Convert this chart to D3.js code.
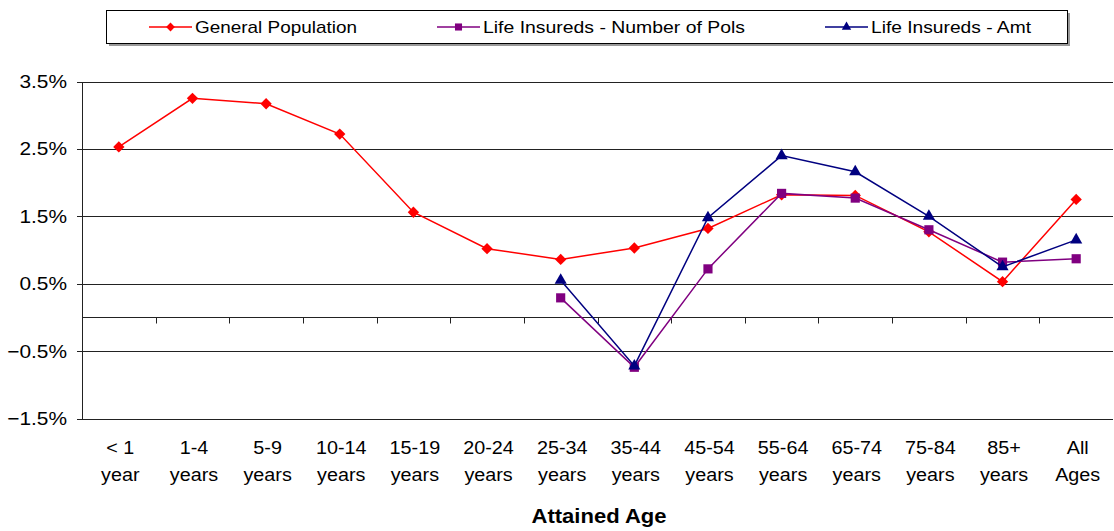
<!DOCTYPE html>
<html>
<head>
<meta charset="utf-8">
<script src="https://cdn.jsdelivr.net/npm/d3@7"></script>
<style>
  body { margin: 0; background: #fff; }
  text { font-family: "Liberation Sans", Arial, sans-serif; fill: #000; }
</style>
</head>
<body>
<div id="chart"></div>
<script>
var width = 1114,
    height = 531,
    stretch = 1.13; // the source text is a bit wider than Arial

// data (percent)
var ageLabels = [["< 1", "year"], ["1-4", "years"], ["5-9", "years"], ["10-14", "years"],
    ["15-19", "years"], ["20-24", "years"], ["25-34", "years"], ["35-44", "years"],
    ["45-54", "years"], ["55-64", "years"], ["65-74", "years"], ["75-84", "years"],
    ["85+", "years"], ["All", "Ages"]];
var genPop = [2.53, 3.25, 3.17, 2.72, 1.56, 1.02, 0.86, 1.03, 1.32, 1.82, 1.81, 1.27, 0.53, 1.75];
var numPols = [null, null, null, null, null, null, 0.29, -0.74, 0.72, 1.84, 1.77, 1.30, 0.82, 0.87];
var amt = [null, null, null, null, null, null, 0.55, -0.72, 1.48, 2.40, 2.16, 1.50, 0.75, 1.15];
var yTicks = [3.5, 2.5, 1.5, 0.5, -0.5, -1.5];
var seriesNames = ["General Population", "Life Insureds - Number of Pols", "Life Insureds - Amt"];

var diamond = {
    draw: function (ctx, size) {
        var r = Math.sqrt(size / 2);
        ctx.moveTo(0, -r); ctx.lineTo(r, 0); ctx.lineTo(0, r); ctx.lineTo(-r, 0); ctx.closePath();
    }
};

var series = [
    { name: seriesNames[0], values: genPop, color: "#ff0000", symbol: diamond, size: 64, legendW: 162 },
    { name: seriesNames[1], values: numPols, color: "#800080", symbol: d3.symbolSquare, size: 84, legendW: 262 },
    { name: seriesNames[2], values: amt, color: "#000080", symbol: d3.symbolTriangle, size: 64, legendW: 160 }
];

var plotLeft = 82, plotRight = 1113, plotTop = 81.5, plotBottom = 418.5;

var svg = d3.select("#chart").append("svg")
    .attr("width", width)
    .attr("height", height);

var x = d3.scaleBand()
    .domain(d3.range(ageLabels.length))
    .range([plotLeft, plotRight]);

var y = d3.scaleLinear()
    .domain([-1.5, 3.5])
    .range([plotBottom, plotTop]);

function place(px, py) {
    return "translate(" + px + "," + py + ") scale(" + stretch + ",1)";
}

// gridlines
svg.append("g")
    .selectAll("line")
    .data(yTicks)
    .enter().append("line")
    .attr("x1", plotLeft - 5)
    .attr("x2", plotRight)
    .attr("y1", function (d) { return Math.round(y(d)) + 0.5; })
    .attr("y2", function (d) { return Math.round(y(d)) + 0.5; })
    .attr("stroke", "#222")
    .attr("stroke-width", 1);

// y axis labels
svg.append("g")
    .selectAll("text")
    .data(yTicks)
    .enter().append("text")
    .attr("transform", function (d) { return place(67, y(d) + 6.5); })
    .attr("text-anchor", "end")
    .style("font-size", "18.5px")
    .text(function (d) { return d3.format(".1f")(d) + "%"; });

// left axis line
svg.append("line")
    .attr("x1", plotLeft + 0.5).attr("x2", plotLeft + 0.5)
    .attr("y1", Math.round(y(3.5))).attr("y2", Math.round(y(-1.5)) + 1)
    .attr("stroke", "#222");

// zero line with category ticks
var zeroY = Math.round(y(0)) + 0.5;
svg.append("line")
    .attr("x1", plotLeft).attr("x2", plotRight)
    .attr("y1", zeroY).attr("y2", zeroY)
    .attr("stroke", "#222");

svg.append("g")
    .selectAll("line")
    .data(d3.range(1, ageLabels.length))
    .enter().append("line")
    .attr("x1", function (d) { return Math.round(x(d)) + 0.5; })
    .attr("x2", function (d) { return Math.round(x(d)) + 0.5; })
    .attr("y1", zeroY)
    .attr("y2", zeroY + 6)
    .attr("stroke", "#222");

// x labels
var xl = svg.append("g")
    .selectAll("g")
    .data(ageLabels)
    .enter().append("g")
    .attr("transform", function (d, i) { return place(x(i) + x.bandwidth() / 2 + 1.5, 0); });
xl.append("text")
    .attr("y", 454)
    .attr("text-anchor", "middle")
    .style("font-size", "17.5px")
    .text(function (d) { return d[0]; });
xl.append("text")
    .attr("y", 481)
    .attr("text-anchor", "middle")
    .style("font-size", "17.5px")
    .text(function (d) { return d[1]; });

svg.append("text")
    .attr("transform", place(599, 523))
    .attr("text-anchor", "middle")
    .style("font-size", "19.5px")
    .style("font-weight", "bold")
    .text("Attained Age");

// lines and markers
var line = d3.line()
    .defined(function (d) { return d != null; })
    .x(function (d, i) { return x(i) + x.bandwidth() / 2; })
    .y(function (d) { return y(d); });

series.forEach(function (s) {
    svg.append("path")
        .datum(s.values)
        .attr("fill", "none")
        .attr("stroke", s.color)
        .attr("stroke-width", 1.5)
        .attr("d", line);

    svg.append("g")
        .selectAll("path")
        .data(s.values.map(function (v, i) { return { v: v, i: i }; })
            .filter(function (d) { return d.v != null; }))
        .enter().append("path")
        .attr("transform", function (d) {
            return "translate(" + (x(d.i) + x.bandwidth() / 2) + "," + y(d.v) + ")";
        })
        .attr("d", d3.symbol().type(s.symbol).size(s.size))
        .attr("fill", s.color);
});

// legend
var legend = svg.append("g");
legend.append("rect")
    .attr("x", 109).attr("y", 13)
    .attr("width", 961).attr("height", 33)
    .attr("fill", "#999");
legend.append("rect")
    .attr("x", 106.5).attr("y", 10.5)
    .attr("width", 961).attr("height", 33)
    .attr("fill", "#fff")
    .attr("stroke", "#000");

var legendX = [149, 437, 825];
series.forEach(function (s, i) {
    var lg = legend.append("g")
        .attr("transform", "translate(" + legendX[i] + ",27)");
    lg.append("line")
        .attr("x1", 0).attr("x2", 43)
        .attr("stroke", s.color)
        .attr("stroke-width", 1.5);
    lg.append("path")
        .attr("transform", "translate(21.5,0)")
        .attr("d", d3.symbol().type(s.symbol).size(s.size * 0.6))
        .attr("fill", s.color);
    lg.append("text")
        .attr("x", 46)
        .attr("dy", "0.35em")
        .attr("textLength", s.legendW)
        .attr("lengthAdjust", "spacingAndGlyphs")
        .style("font-size", "17px")
        .text(s.name);
});
</script>
</body>
</html>
